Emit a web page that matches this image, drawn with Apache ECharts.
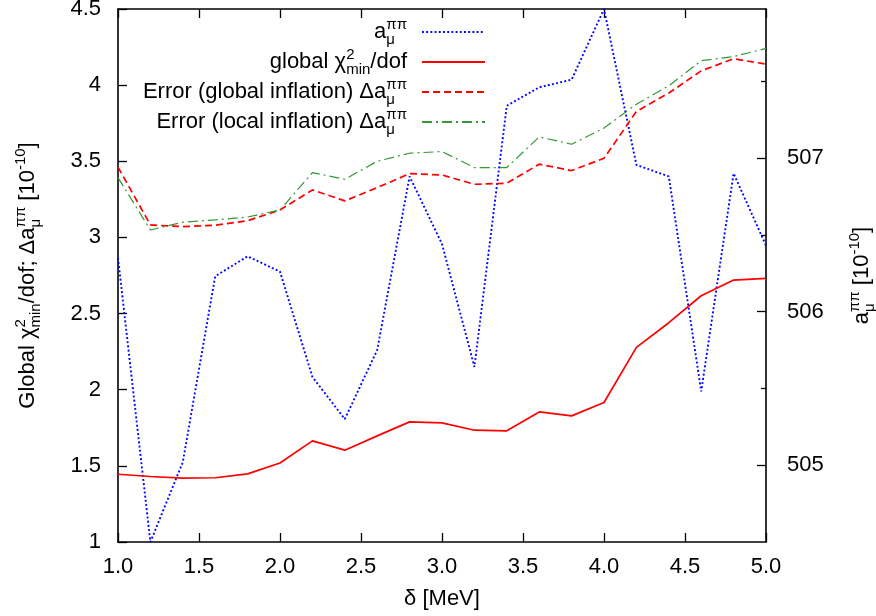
<!DOCTYPE html>
<html>
<head>
<meta charset="utf-8">
<script src="https://cdn.jsdelivr.net/npm/echarts@6/dist/echarts.min.js"></script>
<style>html,body{margin:0;padding:0;background:#fff}#c{width:876px;height:616px}</style>
</head>
<body>
<div id="c"></div>
<script>
// ---- data ----
const deltaMeV = [1.0, 1.2, 1.4, 1.6, 1.8, 2.0, 2.2, 2.4, 2.6, 2.8, 3.0, 3.2, 3.4, 3.6, 3.8, 4.0, 4.2, 4.4, 4.6, 4.8, 5.0];
const aMuPiPi = [506.35, 504.50, 505.02, 506.23, 506.36, 506.26, 505.575, 505.30, 505.75, 506.88, 506.44, 505.64, 507.34, 507.46, 507.51, 507.97, 506.955, 506.88, 505.48, 506.90, 506.43];
const chi2PerDof = [1.445, 1.430, 1.420, 1.422, 1.447, 1.519, 1.664, 1.603, 1.697, 1.789, 1.782, 1.734, 1.730, 1.854, 1.828, 1.916, 2.278, 2.440, 2.617, 2.720, 2.731];
const errGlobalInflation = [3.462, 3.082, 3.071, 3.080, 3.110, 3.180, 3.312, 3.240, 3.327, 3.419, 3.410, 3.349, 3.356, 3.481, 3.439, 3.520, 3.827, 3.948, 4.094, 4.173, 4.138];
const errLocalInflation = [3.393, 3.049, 3.100, 3.115, 3.134, 3.180, 3.426, 3.382, 3.500, 3.553, 3.564, 3.459, 3.459, 3.660, 3.612, 3.718, 3.875, 3.996, 4.160, 4.188, 4.241];
const xTickValues = [1.0, 1.5, 2.0, 2.5, 3.0, 3.5, 4.0, 4.5, 5.0];
const leftTickValues = [1, 1.5, 2, 2.5, 3, 3.5, 4, 4.5];
const rightTickValues = [505, 506, 507];
const rightMinorTickValues = [505.5, 506.5, 507.5];
const seriesNames = ['aMu', 'chi2', 'errGlobal', 'errLocal'];

// ---- style ----
const FONT = '"Liberation Sans", Arial, Helvetica, sans-serif';
const FS = 22;
const SFS = 15;
const base = { fontFamily: FONT, color: '#000', align: 'left' };
const rich = {
  t: Object.assign({}, base, { fontSize: FS, lineHeight: 30 }),
  sup: Object.assign({}, base, { fontSize: SFS, lineHeight: 9, verticalAlign: 'top' }),
  sub: Object.assign({}, base, { fontSize: SFS, lineHeight: 19, verticalAlign: 'bottom' }),
  sup0: Object.assign({}, base, { fontSize: SFS, lineHeight: 9, verticalAlign: 'top', width: 0 }),
  sub0: Object.assign({}, base, { fontSize: SFS, lineHeight: 19, verticalAlign: 'bottom', width: 0 })
};
const legendText = {
  aMu: '{t|a}{sub0|μ}{sup|ππ}',
  chi2: '{t|global χ}{sup0|2}{sub|min}{t|/dof}',
  errGlobal: '{t|Error (global inflation) Δa}{sub0|μ}{sup|ππ}',
  errLocal: '{t|Error (local inflation) Δa}{sub0|μ}{sup|ππ}'
};
const leftName = '{t|Global χ}{sup0|2}{sub|min}{t|/dof; Δa}{sub0|μ}{sup|ππ}{t| [10}{sup|-10}{t|]}';
const rightName = '{t|a}{sub0|μ}{sup|ππ}{t| [10}{sup|-10}{t|]}';

const axisLineStyle = { show: true, onZero: false, lineStyle: { color: '#000', width: 1.6 } };
const labelStyle = { fontFamily: FONT, fontSize: FS, color: '#000', lineHeight: 22 };

function pairs(ys) { return deltaMeV.map((x, i) => [x, ys[i]]); }

const chart = echarts.init(document.getElementById('c'), null, { renderer: 'canvas' });
chart.setOption({
  animation: false,
  backgroundColor: '#fff',
  grid: { left: 118, right: 110, top: 9, bottom: 74, outerBoundsMode: 'none', containLabel: false },
  xAxis: [
    {
      type: 'value', position: 'bottom', min: 1, max: 5,
      axisLine: axisLineStyle,
      axisTick: { show: true, inside: true, length: 9, customValues: xTickValues, lineStyle: { color: '#000', width: 1.3 } },
      axisLabel: Object.assign({ show: true, margin: 14, customValues: xTickValues, formatter: v => v.toFixed(1) }, labelStyle),
      splitLine: { show: false },
      name: 'δ [MeV]', nameLocation: 'middle', nameGap: 42,
      nameTextStyle: { fontFamily: FONT, fontSize: FS, color: '#000', lineHeight: 30 }
    },
    {
      type: 'value', position: 'top', min: 1, max: 5,
      axisLine: axisLineStyle,
      axisTick: { show: true, inside: true, length: 9, customValues: xTickValues, lineStyle: { color: '#000', width: 1.3 } },
      axisLabel: { show: false },
      splitLine: { show: false }
    }
  ],
  yAxis: [
    {
      type: 'value', position: 'left', min: 1, max: 4.5,
      axisLine: axisLineStyle,
      axisTick: { show: true, inside: true, length: 9, customValues: leftTickValues, lineStyle: { color: '#000', width: 1.3 } },
      axisLabel: Object.assign({ show: true, margin: 17, customValues: leftTickValues, formatter: v => String(v) }, labelStyle),
      splitLine: { show: false },
      name: leftName, nameLocation: 'middle', nameRotate: 90, nameGap: 75,
      nameTextStyle: { rich: rich, fontFamily: FONT, fontSize: FS, color: '#000' }
    },
    {
      type: 'value', position: 'right', min: 504.5, max: 507.97,
      axisLine: axisLineStyle,
      axisTick: { show: true, inside: true, length: 9, customValues: rightTickValues, lineStyle: { color: '#000', width: 1.3 } },
      axisLabel: Object.assign({ show: true, margin: 21, customValues: rightTickValues, formatter: v => String(v) }, labelStyle),
      splitLine: { show: false },
      name: rightName, nameLocation: 'middle', nameRotate: 90, nameGap: 81,
      nameTextStyle: { rich: rich, fontFamily: FONT, fontSize: FS, color: '#000' }
    },
    {
      type: 'value', position: 'right', min: 504.5, max: 507.97,
      axisLine: { show: false },
      axisTick: { show: true, inside: true, length: 5, customValues: rightMinorTickValues, lineStyle: { color: '#000', width: 1.3 } },
      axisLabel: { show: false },
      splitLine: { show: false }
    }
  ],
  legend: {
    data: seriesNames,
    orient: 'vertical', right: 390, top: 17, align: 'right',
    itemWidth: 63, itemHeight: 10, itemGap: 0, padding: 0,
    selectedMode: false,
    formatter: n => legendText[n],
    itemStyle: { opacity: 0 },
    textStyle: { fontFamily: FONT, fontSize: FS, color: '#000', rich: rich, padding: [0, 10, 0, 0] }
  },
  series: [
    {
      name: 'aMu', type: 'line', xAxisIndex: 0, yAxisIndex: 1, data: pairs(aMuPiPi),
      symbol: 'none', itemStyle: { color: '#0000ff' },
      lineStyle: { color: '#0000ff', width: 1.9, type: [1.9, 2.3] }
    },
    {
      name: 'chi2', type: 'line', xAxisIndex: 0, yAxisIndex: 0, data: pairs(chi2PerDof),
      symbol: 'none', itemStyle: { color: '#ff0000' },
      lineStyle: { color: '#ff0000', width: 1.7, type: 'solid' }
    },
    {
      name: 'errGlobal', type: 'line', xAxisIndex: 0, yAxisIndex: 0, data: pairs(errGlobalInflation),
      symbol: 'none', itemStyle: { color: '#ff0000' },
      lineStyle: { color: '#ff0000', width: 1.7, type: [7, 4] }
    },
    {
      name: 'errLocal', type: 'line', xAxisIndex: 0, yAxisIndex: 0, data: pairs(errLocalInflation),
      symbol: 'none', itemStyle: { color: '#339933' },
      lineStyle: { color: '#339933', width: 1.2, type: [10, 4, 2, 4] }
    }
  ]
});
</script>
</body>
</html>
